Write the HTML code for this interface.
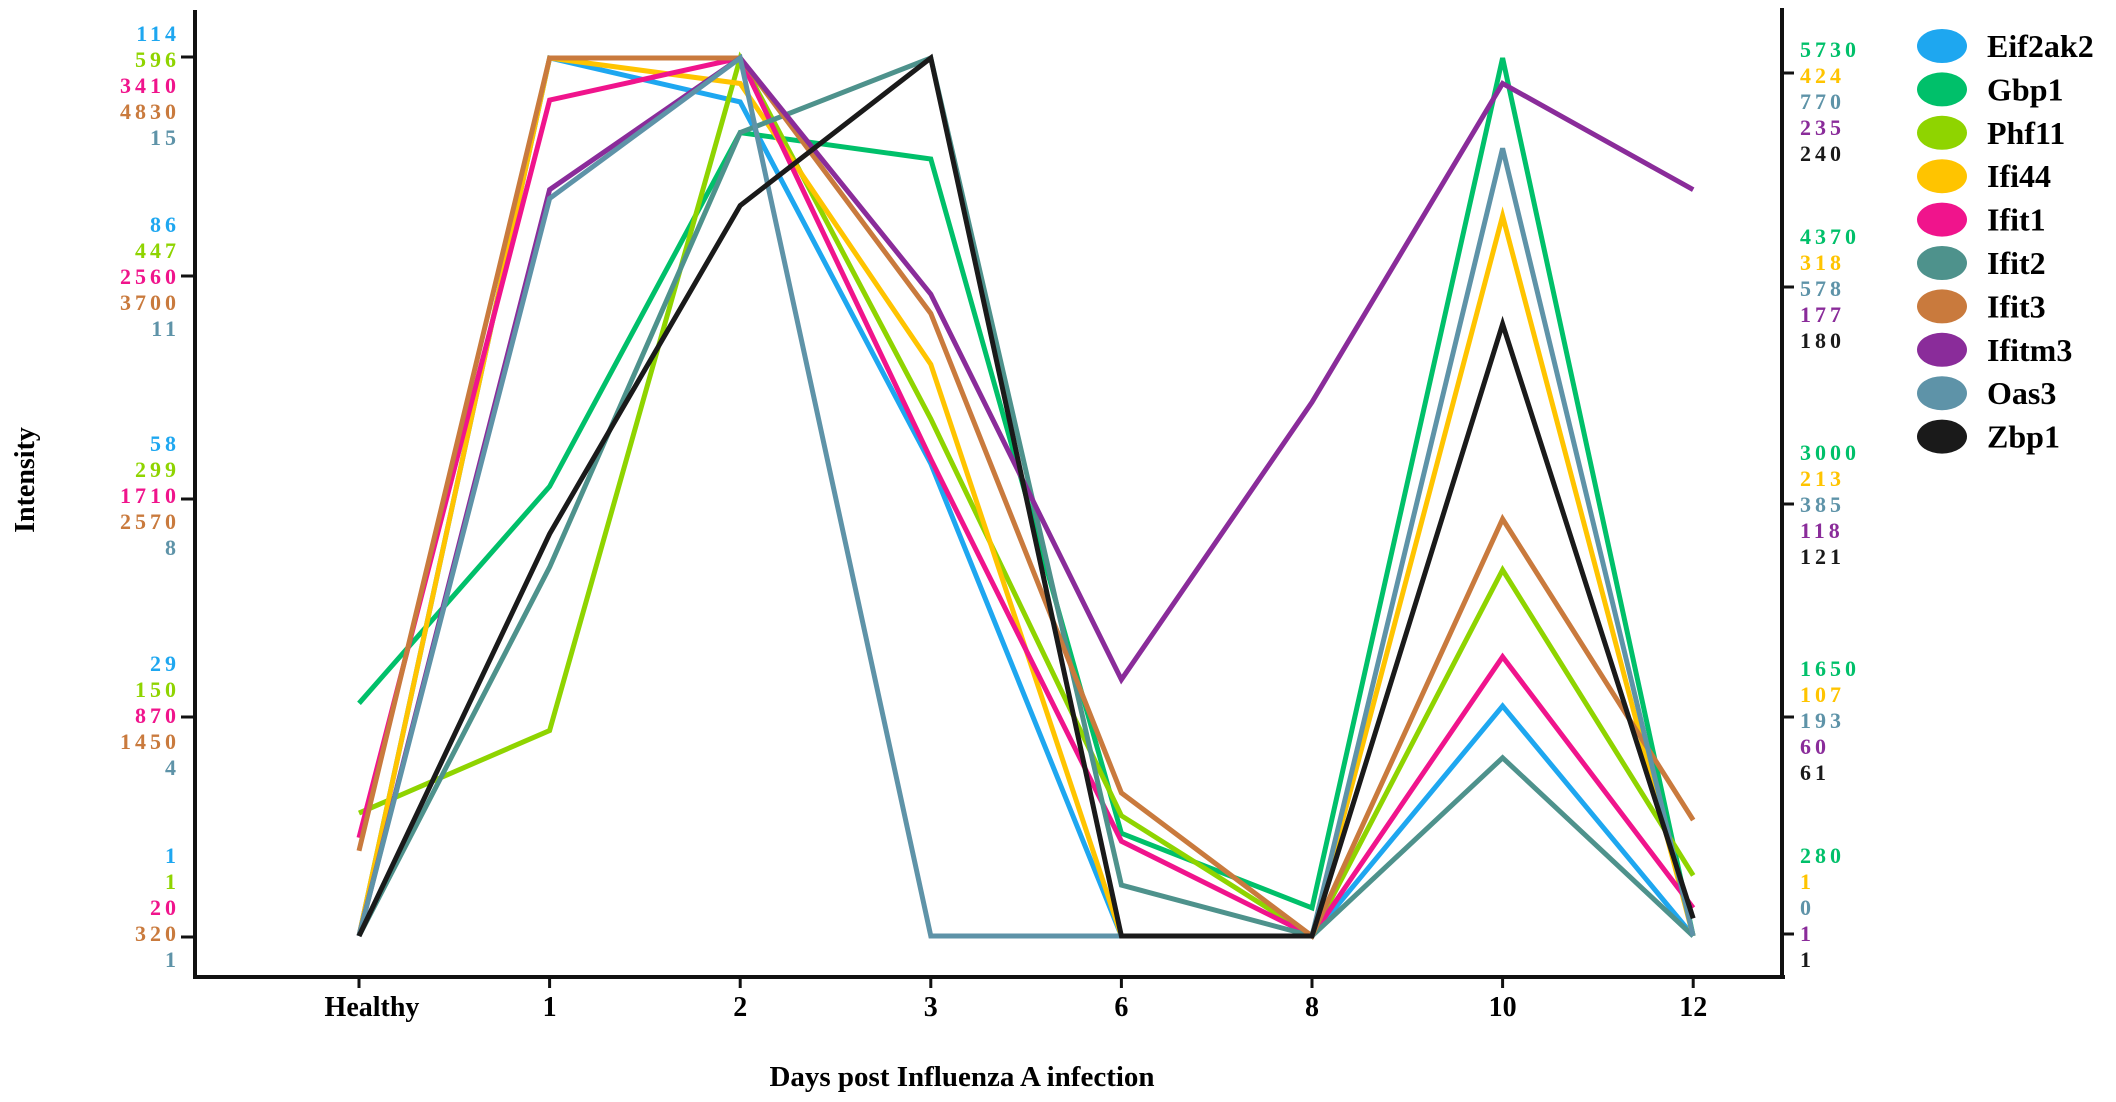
<!DOCTYPE html>
<html><head><meta charset="utf-8"><style>
html,body{margin:0;padding:0;background:#fff;}
svg{display:block;}
text{font-family:"Liberation Serif",serif;font-weight:bold;}
</style></head><body>
<svg id="chart" width="2116" height="1102" viewBox="0 0 2116 1102">
<g id="axes">
<line x1="195" y1="10" x2="195" y2="977" stroke="#111" stroke-width="4"/>
<line x1="193" y1="977" x2="1785" y2="977" stroke="#111" stroke-width="4"/>
<line x1="1782" y1="8" x2="1782" y2="977" stroke="#111" stroke-width="4"/>
</g>
<g id="series"></g>
<g id="labels"></g>
<text x="34" y="480" font-size="28" text-anchor="middle" transform="rotate(-90 34 480)">Intensity</text>
<text x="962" y="1086" font-size="29" text-anchor="middle">Days post Influenza A infection</text>
<g id="legend"></g>
</svg>
<script>
const categories = ["Healthy","1","2","3","6","8","10","12"];
const seriesNames = ["Eif2ak2","Gbp1","Phf11","Ifi44","Ifit1","Ifit2","Ifit3","Ifitm3","Oas3","Zbp1"];
const seriesColors = ["#1ea7f0","#00c06a","#8fd400","#ffc400","#f0148c","#4e928c","#c97a3d","#8a2c9a","#5e93a8","#1a1a1a"];
// normalized intensity (0 = bottom tick, 100 = top tick)
const eif2ak2 = [0,100,95,53.8,0,0,26.2,0];
const gbp1    = [26.5,51.2,91.5,88.5,11.7,3.2,100,0];
const phf11   = [14,23.4,100,58.9,13.7,0,41.7,6.9];
const ifi44   = [0,100,97.1,65.1,0,0,82,0];
const ifit1   = [11.2,95.2,100,54.3,10.8,0,31.8,3.2];
const ifit2   = [0,42,91.5,100,5.8,0,20.3,0];
const ifit3   = [9.7,100,100,70.9,16.3,0,47.5,13.2];
const ifitm3  = [0,85,100,73.1,29.2,60.8,97.1,85];
const oas3    = [0,84,100,0,0,0,89.7,0];
const zbp1    = [0,45.8,83.2,100,0,0,69.7,2];
const seriesValues = [eif2ak2,gbp1,phf11,ifi44,ifit1,ifit2,ifit3,ifitm3,oas3,zbp1];
const leftTickGroups = [
 ["114","596","3410","4830","15"],
 ["86","447","2560","3700","11"],
 ["58","299","1710","2570","8"],
 ["29","150","870","1450","4"],
 ["1","1","20","320","1"]];
const leftColors = ["#1ea7f0","#8fd400","#f0148c","#c97a3d","#5e93a8"];
const rightTickGroups = [
 ["5730","424","770","235","240"],
 ["4370","318","578","177","180"],
 ["3000","213","385","118","121"],
 ["1650","107","193","60","61"],
 ["280","1","0","1","1"]];
const rightColors = ["#00c06a","#ffc400","#5e93a8","#8a2c9a","#1a1a1a"];

const NS="http://www.w3.org/2000/svg";
const x0=359, xStep=190.6;
const xScale=i=>x0+i*xStep;
const yScale=v=>936-(v/100)*878;
function mk(tag,attrs,parent){const e=document.createElementNS(NS,tag);for(const k in attrs)e.setAttribute(k,attrs[k]);parent.appendChild(e);return e;}
const gS=document.getElementById('series');
seriesValues.forEach((vals,s)=>{
  const pts=vals.map((v,i)=>xScale(i).toFixed(1)+","+yScale(v).toFixed(1)).join(" ");
  const pl=mk('polyline',{points:pts,fill:"none",stroke:seriesColors[s],"stroke-width":5,"stroke-linejoin":"miter"},gS);
  
  
});
const gL=document.getElementById('labels');
const axes=document.getElementById('axes');
categories.forEach((c,i)=>{
  const t=mk('line',{x1:xScale(i),y1:977,x2:xScale(i),y2:988,stroke:"#111","stroke-width":3},axes);
  
  
  const tx=mk('text',{x:xScale(i)+(i===0?13:0),y:1016,"font-size":28,"text-anchor":"middle"},gL);
  tx.textContent=c;
  
  
});
const leftTickY=[57,276,499,717,937];
const leftFirstY=[33,224,443,663,855];
leftTickGroups.forEach((g,gi)=>{
  const tk=mk('line',{x1:181,y1:leftTickY[gi],x2:195,y2:leftTickY[gi],stroke:"#111","stroke-width":3},axes);
  
  
  g.forEach((lab,r)=>{
    const t=mk('text',{x:180,y:leftFirstY[gi]+r*26+8,"font-size":22,"text-anchor":"end",fill:leftColors[r],"letter-spacing":"4"},gL);
    t.textContent=lab;
    
    
  });
});
const rightTickY=[73,287,504,717,934];
const rightFirstY=[49,236,452,668,855];
rightTickGroups.forEach((g,gi)=>{
  const tk=mk('line',{x1:1782,y1:rightTickY[gi],x2:1794,y2:rightTickY[gi],stroke:"#111","stroke-width":3},axes);
  
  
  g.forEach((lab,r)=>{
    const t=mk('text',{x:1800,y:rightFirstY[gi]+r*26+8,"font-size":22,"text-anchor":"start",fill:rightColors[r],"letter-spacing":"4"},gL);
    t.textContent=lab;
    
    
  });
});
const gLeg=document.getElementById('legend');
seriesNames.forEach((n,i)=>{
  const cy=46+i*43.4;
  const e=mk('ellipse',{cx:1942,cy:cy,rx:25,ry:17,fill:seriesColors[i]},gLeg);
  
  
  const t=mk('text',{x:1987,y:cy+11,"font-size":32},gLeg);
  t.textContent=n;
  
  
});
</script>
</body></html>
